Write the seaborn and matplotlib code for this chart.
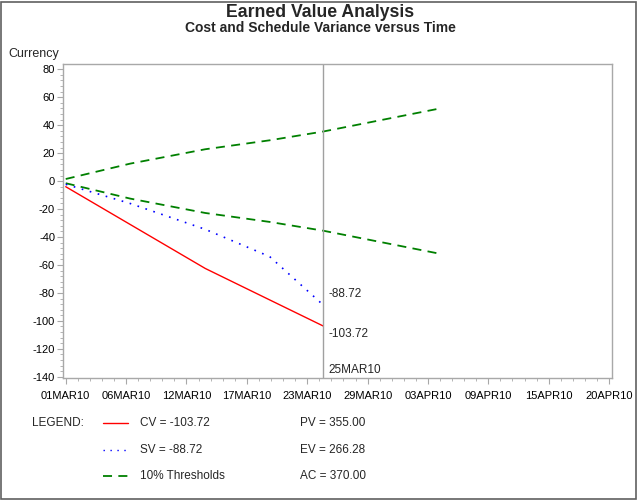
import pandas as pd
import numpy as np
import matplotlib
matplotlib.use('Agg')
import matplotlib.pyplot as plt
import matplotlib.dates as mdates
from matplotlib.lines import Line2D
from matplotlib.patches import Rectangle
from matplotlib.ticker import FuncFormatter, MultipleLocator, FixedLocator
import seaborn as sns

# Values
dates = pd.to_datetime(['2010-03-01', '2010-03-07', '2010-03-14', '2010-03-20', '2010-03-25'])
cv = [-4.0, -31.0, -62.5, -85.0, -103.72]
sv = [-2.3, -16.0, -34.5, -54.0, -88.72]

pv_dates = pd.to_datetime(['2010-03-01', '2010-03-07', '2010-03-14', '2010-03-20', '2010-03-25', '2010-04-05'])
pv_cum = [15.0, 125.0, 228.0, 292.0, 355.0, 522.0]

status_date = pd.Timestamp('2010-03-25')
pv_total, ev_total, ac_total = 355.00, 266.28, 370.00

# Build the frames seaborn will draw
var_df = pd.DataFrame({'Date': dates, 'CV': cv, 'SV': sv})
thr_df = pd.DataFrame({'Date': pv_dates, 'Upper': np.array(pv_cum) * 0.10,
                       'Lower': np.array(pv_cum) * -0.10})

sns.set_style('white')
plt.rcParams['font.family'] = ['Liberation Sans', 'DejaVu Sans']
plt.rcParams['axes.unicode_minus'] = False

fig = plt.figure(figsize=(6.4, 5.0), dpi=100)
ax = fig.add_axes([0.098, 0.2434, 0.859, 0.6286])

green = '#008000'
dash = (0, (5, 3.5))
dots = (0, (1, 4))
sns.lineplot(data=thr_df, x='Date', y='Upper', ax=ax, color=green, lw=1.3,
             linestyle=dash)
sns.lineplot(data=thr_df, x='Date', y='Lower', ax=ax, color=green, lw=1.3,
             linestyle=dash)
sns.lineplot(data=var_df, x='Date', y='SV', ax=ax, color='#0000ff', lw=1.2,
             linestyle=dots)
sns.lineplot(data=var_df, x='Date', y='CV', ax=ax, color='#ff0000', lw=1.0)

ax.axvline(status_date, color='#a0a0a0', lw=1.0)

# x axis: ticks every 5.625 days starting 01MAR10
start = mdates.date2num(pd.Timestamp('2010-03-01'))
ticks = start + np.arange(10) * 5.625
ax.xaxis.set_major_locator(FixedLocator(ticks))
ax.xaxis.set_minor_locator(FixedLocator(start + np.arange(46) * 1.125))
ax.xaxis.set_major_formatter(FuncFormatter(
    lambda v, p: mdates.num2date(v).strftime('%d%b%y').upper()))
ax.set_xlim(start - 0.28, start + 50.94)

ax.set_ylim(-141.1, 83.8)
ax.yaxis.set_major_locator(MultipleLocator(20))
ax.yaxis.set_minor_locator(MultipleLocator(4))

ax.set_xlabel('')
ax.set_ylabel('')
for s in ax.spines.values():
    s.set_color('#a8a8a8')
    s.set_linewidth(1.0)
ax.tick_params(which='major', direction='out', length=4, width=0.8,
               color='#a8a8a8', labelsize=8, labelcolor='black', pad=1.5,
               left=True, bottom=True)
ax.tick_params(which='minor', direction='out', length=2, width=0.6,
               color='#a8a8a8', left=True, bottom=True)
ax.tick_params(axis='x', pad=5)

# end-of-line labels
ax.annotate(f'{sv[-1]:.2f}', xy=(status_date, sv[-1]), xytext=(4, 8),
            textcoords='offset points', fontsize=8.5, va='center', ha='left')
ax.annotate(f'{cv[-1]:.2f}', xy=(status_date, cv[-1]), xytext=(4, -6),
            textcoords='offset points', fontsize=8.5, va='center', ha='left')
ax.annotate(status_date.strftime('%d%b%y').upper(), xy=(status_date, -140),
            xytext=(4, 5), textcoords='offset points', fontsize=8.5,
            va='center', ha='left')

# titles and axis label
fig.text(0.5, 0.975, 'Earned Value Analysis', ha='center', va='center',
         fontsize=12.7, fontweight='bold')
fig.text(0.5, 0.943, 'Cost and Schedule Variance versus Time', ha='center',
         va='center', fontsize=10, fontweight='bold')
fig.text(0.0125, 0.892, 'Currency', ha='left', va='center', fontsize=9)

# legend block
rows_y = [0.154, 0.100, 0.048]
fig.text(0.05, rows_y[0], 'LEGEND:', ha='left', va='center', fontsize=8.5)
styles = [dict(color='#ff0000', lw=1.0, linestyle='-'),
          dict(color='#0000ff', lw=1.0, linestyle=dots),
          dict(color=green, lw=1.3, linestyle=dash)]
names = [f'CV = {cv[-1]:.2f}', f'SV = {sv[-1]:.2f}', '10% Thresholds']
totals = [f'PV = {pv_total:.2f}', f'EV = {ev_total:.2f}', f'AC = {ac_total:.2f}']
for y, st, nm, tt in zip(rows_y, styles, names, totals):
    fig.add_artist(Line2D([0.161, 0.2], [y, y], transform=fig.transFigure, **st))
    fig.text(0.219, y, nm, ha='left', va='center', fontsize=8.5)
    fig.text(0.469, y, tt, ha='left', va='center', fontsize=8.5)

# outer border
fig.add_artist(Rectangle((0.0015, 0.003), 0.993, 0.994, transform=fig.transFigure,
                         fill=False, edgecolor='#606060', lw=1.2))

fig.savefig('out.png', dpi=100)
